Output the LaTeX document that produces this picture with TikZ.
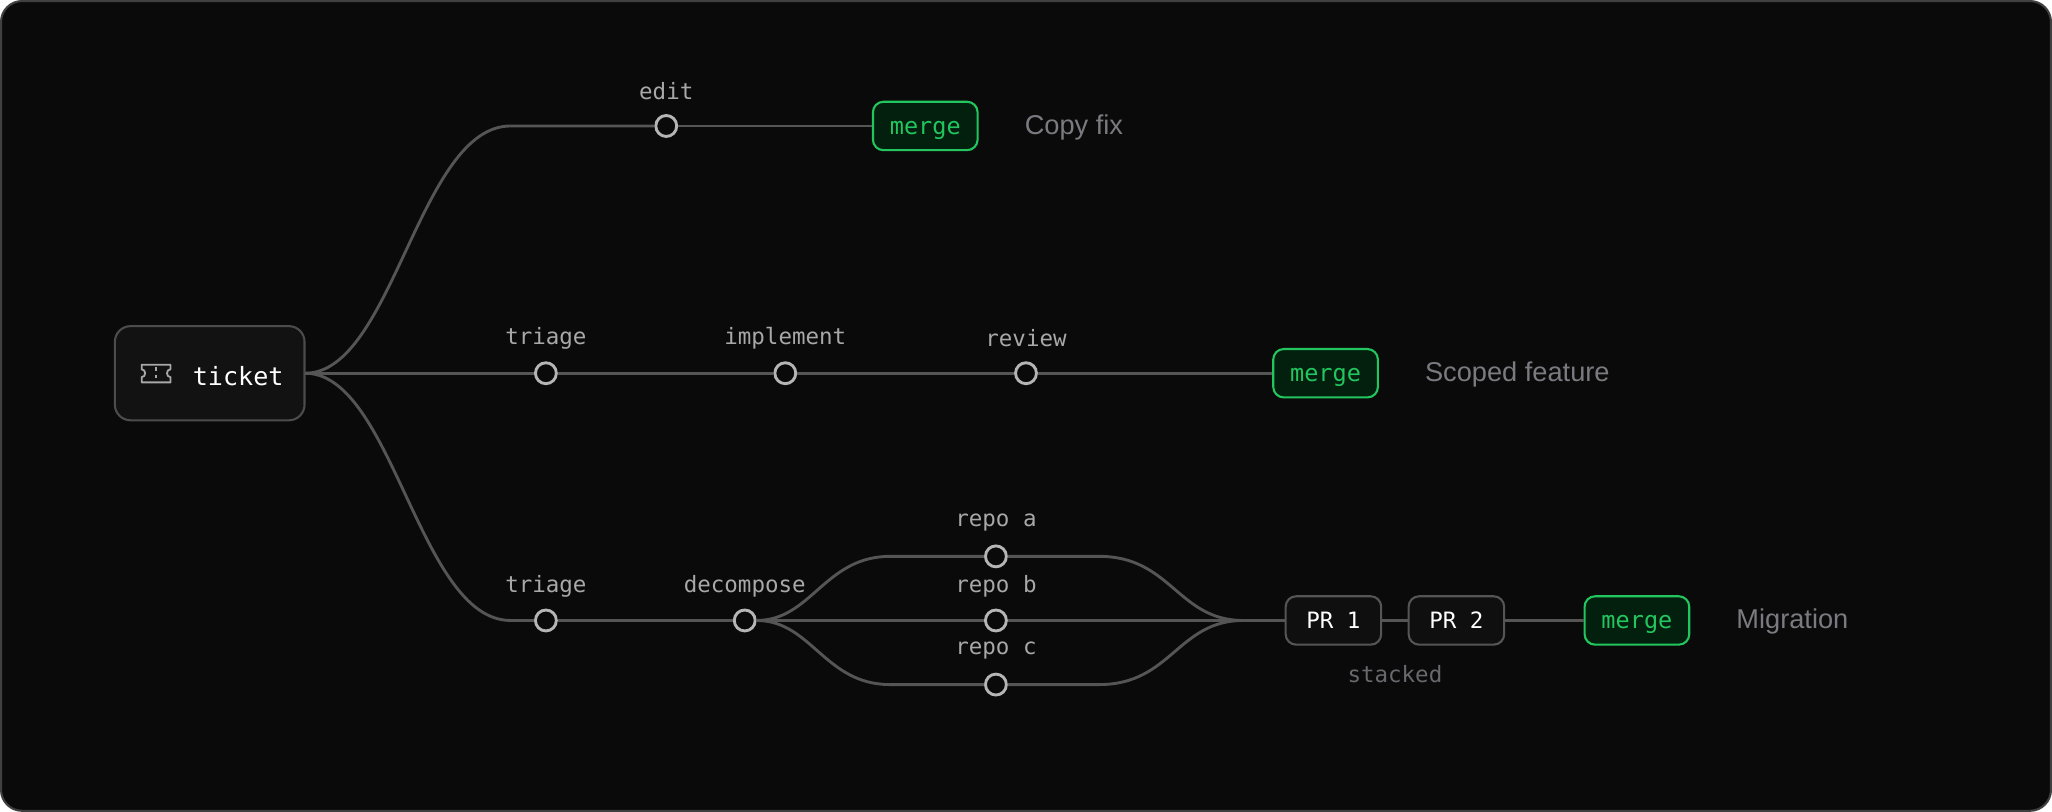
\documentclass[tikz,border=0pt]{standalone}
\usepackage{fontspec}
\setmainfont{Liberation Sans}
\setmonofont{DejaVu Sans Mono}
\definecolor{bg}{HTML}{0A0A0A}
\definecolor{edge}{HTML}{555555}
\definecolor{lbl}{HTML}{A8A8A8}
\definecolor{ttl}{HTML}{7A7A80}
\definecolor{grn}{HTML}{22C55E}
\definecolor{grnf}{HTML}{03200F}
\begin{document}
\begin{tikzpicture}[x=0.5pt,y=-0.5pt,
  wire/.style={draw=edge,line width=1.1pt},
  dot/.style={circle,draw=lbl!85,line width=1.1pt,fill=bg,minimum size=8pt,inner sep=0},
  lab/.style={font=\ttfamily\fontsize{8.6}{10}\selectfont,text=lbl},
  box/.style={rounded corners=4pt,draw=edge,line width=0.8pt,fill=black!94!white,text=white,font=\ttfamily\fontsize{8.6}{10}\selectfont,minimum height=18.5pt,minimum width=36.5pt,text height=6.6pt,text depth=0.6pt},
  mrg/.style={rounded corners=4pt,draw=grn,line width=0.8pt,fill=grnf,text=grn,font=\ttfamily\fontsize{9}{10}\selectfont,minimum height=18.5pt,minimum width=40pt,text height=6.8pt,text depth=0.4pt},
  ttl/.style={anchor=west,text=ttl,font=\fontsize{10.4}{12}\selectfont}]
\path[use as bounding box,fill=bg,draw=black!75!white,rounded corners=8pt,line width=0.8pt] (0.5,0.5) rectangle (1567.5,619.5);
\node[box,minimum width=72.5pt,minimum height=36pt,rounded corners=6pt,fill=black!93!white,draw=black!70!white] (t) at (160,285) {};
\node[text=white,font=\ttfamily\fontsize{9.6}{11}\selectfont,anchor=west] (tt) at (140,287) {ticket};
\draw[draw=lbl,line width=0.7pt,line join=round] (108,278.5) -- (130,278.5) -- (130,282) .. controls (126.5,282) and (126.5,288) .. (130,288) -- (130,292) -- (108,292) -- (108,288) .. controls (111.5,288) and (111.5,282) .. (108,282) -- cycle;
\draw[draw=lbl,line width=0.6pt,dash pattern=on 1.5pt off 1.5pt] (119,280) -- (119,291);
\coordinate (s) at (233,285);
% top
\node[dot] (e) at (509,96) {};
\node[lab] at (509,69) {edit};
\node[mrg] (m1) at (707,96) {merge};
\node[ttl] at (776,97) {Copy fix};
\draw[wire] (s) .. controls (300,285) and (320,96) .. (390,96) -- (e);
\draw[wire] (e) -- (m1);
% middle
\node[dot] (a1) at (417,285) {}; \node[lab] at (417,258) {triage};
\node[dot] (a2) at (600,285) {}; \node[lab] at (600,258) {implement};
\node[dot] (a3) at (784,285) {}; \node[lab] at (784,258) {review};
\node[mrg] (m2) at (1013,285) {merge};
\node[ttl] at (1082,286) {Scoped feature};
\draw[wire] (s) -- (a1); \draw[wire] (a1) -- (a2); \draw[wire] (a2) -- (a3); \draw[wire] (a3) -- (m2);
% bottom
\node[dot] (b1) at (417,474) {}; \node[lab] at (417,448) {triage};
\node[dot] (b2) at (569,474) {}; \node[lab] at (569,448) {decompose};
\node[dot] (ra) at (761,425) {}; \node[lab] at (761,399) {repo a};
\node[dot] (rb) at (761,474) {}; \node[lab] at (761,448) {repo b};
\node[dot] (rc) at (761,523) {}; \node[lab] at (761,497) {repo c};
\coordinate (j) at (950,474);
\node[box] (p1) at (1019,474) {PR 1};
\node[box] (p2) at (1113,474) {PR 2};
\node[mrg] (m3) at (1251,474) {merge};
\node[ttl] at (1320,475) {Migration};
\node[lab,text=ttl!85!black] at (1066,515) {stacked};
\draw[wire] (s) .. controls (300,285) and (320,474) .. (390,474) -- (b1);
\draw[wire] (b1) -- (b2);
\draw[wire] (b2.east) .. controls (620,474) and (630,425) .. (680,425) -- (ra);
\draw[wire] (b2) -- (rb);
\draw[wire] (b2.east) .. controls (620,474) and (630,523) .. (680,523) -- (rc);
\draw[wire] (ra) -- (840,425) .. controls (895,425) and (900,474) .. (j);
\draw[wire] (rb) -- (j);
\draw[wire] (rc) -- (840,523) .. controls (895,523) and (900,474) .. (j);
\draw[wire] (j) -- (p1); \draw[wire] (p1) -- (p2); \draw[wire] (p2) -- (m3);
\end{tikzpicture}
\end{document}
